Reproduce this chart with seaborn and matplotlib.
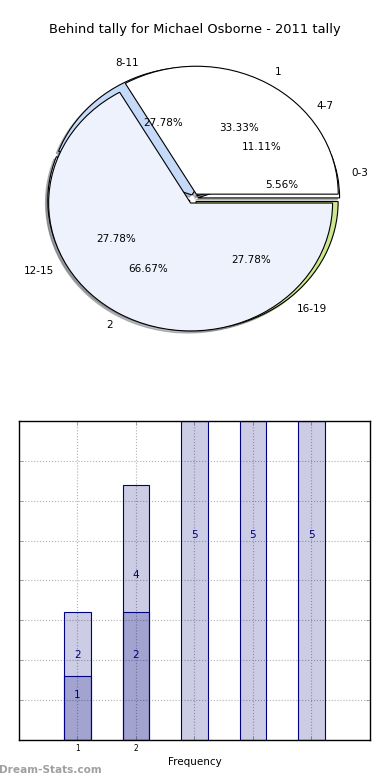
import numpy as np
import pandas as pd
import matplotlib
matplotlib.use('Agg')
import matplotlib.pyplot as plt
import seaborn as sns
from matplotlib.colors import to_rgba

title = 'Behind tally for Michael Osborne - 2011 tally'

# pie: tally ranges (outer layer)
range_labels = ['0-3', '4-7', '8-11', '12-15', '16-19']
range_counts = [1, 2, 5, 5, 5]
range_colors = ['white', 'white', '#c5d9f9', '#edf2fd', '#cde78c']

# pie: groups (drawn on top)
group_labels = ['1', '2']
group_counts = [1, 2]
group_colors = ['white', '#edf2fd']

# bars
bar_x = [1, 2, 3, 4, 5]
bar_all = [2, 4, 5, 5, 5]
bar_sub_x = [1, 2]
bar_sub = [1, 2]
xtick_labels = ['1', '2', '', '', '']

fig = plt.figure(figsize=(3.9, 7.8), dpi=100)

fig.text(0.4987, 1 - 30 / 780, title, ha='center', va='center', fontsize=9.4)

# ---- pie ----
ax1 = fig.add_axes([0.041, 0.5404, 0.910, 0.410])
wp = dict(edgecolor='black', linewidth=0.8)
shad = dict(ox=-0.012, oy=-0.012, shade=0.5)
ax1.pie(range_counts, labels=range_labels, colors=range_colors,
        explode=[0.03] * len(range_counts), autopct='%1.2f%%',
        pctdistance=0.6, labeldistance=1.1, shadow=shad, startangle=0,
        wedgeprops=wp, textprops=dict(fontsize=7.5))
ax1.pie(group_counts, labels=group_labels, colors=group_colors,
        explode=[0.04] * len(group_counts), autopct='%1.2f%%',
        pctdistance=0.6, labeldistance=1.1, shadow=shad, startangle=0,
        wedgeprops=wp, textprops=dict(fontsize=7.5))
ax1.set_aspect('auto')
ax1.set_xlim(-1.25, 1.25)
ax1.set_ylim(-1.25, 1.25)

# ---- bars ----
ax2 = fig.add_axes([0.0487, 0.0513, 0.9, 0.409])
df_all = pd.DataFrame({'x': bar_x, 'y': bar_all})
df_sub = pd.DataFrame({'x': bar_sub_x, 'y': bar_sub})
sns.barplot(data=df_all, x='x', y='y', native_scale=True, orient='x',
            width=0.45, errorbar=None, color='navy', saturation=1, ax=ax2)
sns.barplot(data=df_sub, x='x', y='y', native_scale=True, orient='x',
            width=0.45, errorbar=None, color='navy', saturation=1, ax=ax2)
for p in ax2.patches:
    p.set_facecolor(to_rgba('navy', 0.2))
    p.set_edgecolor('navy')
    p.set_linewidth(0.8)

for x, h in zip(bar_x, bar_all):
    ax2.text(x, 0.625 * h + 0.085, str(h), ha='center', va='center',
             color='navy', fontsize=7.5)
for x, h in zip(bar_sub_x, bar_sub):
    ax2.text(x, 0.625 * h + 0.085, str(h), ha='center', va='center',
             color='navy', fontsize=7.5)

ax2.set_xlim(0, 6)
ax2.set_ylim(0, 5)
ax2.set_xticks(bar_x)
ax2.set_xticklabels(xtick_labels, fontsize=5.5)
ax2.set_yticks(np.linspace(0, 5, 9))
ax2.set_yticklabels([])
ax2.tick_params(direction='in', top=True, right=True, length=3, width=0.5,
                color='#888888', pad=3)
ax2.grid(True, linestyle=':', color='#b0b0b0', linewidth=0.8)
ax2.set_axisbelow(True)
for s in ax2.spines.values():
    s.set_linewidth(1)
    s.set_color('black')
ax2.set_xlabel('Frequency', fontsize=7.5, labelpad=3)
ax2.set_ylabel('')

fig.text(-0.003, 1 - 770 / 780, 'Dream-Stats.com', ha='left', va='center',
         fontsize=7.6, color='#a0a0a0', fontweight='bold')

fig.savefig('out.png', dpi=100)
